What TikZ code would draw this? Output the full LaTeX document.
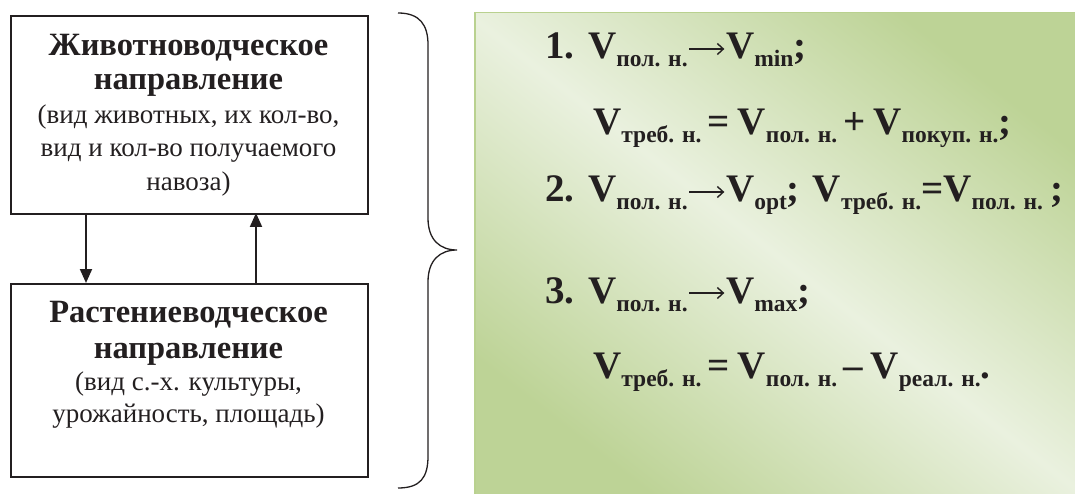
\documentclass[tikz,border=0pt]{standalone}
\usepackage{fontspec}
\setmainfont{Liberation Serif}
\usetikzlibrary{arrows.meta}
\definecolor{ink}{HTML}{231F20}
\definecolor{gdark}{HTML}{BDD396}
\definecolor{glight}{HTML}{EAF1DF}
\definecolor{gedge}{HTML}{B9D18F}
\newcommand{\vsb}[1]{V\raisebox{-8pt}{\fontsize{23.5}{23.5}\selectfont #1}}
\newcommand{\arr}{\kern1pt\tikz[baseline=-10pt]\draw[ink, line width=1.4pt,
  -{Straight Barb[length=6pt,width=11pt,line width=1.4pt]}] (0pt,0pt) -- (35pt,0pt);\kern1pt}
\newcommand{\op}[1]{\kern6pt#1\kern8pt}
\tikzset{
  box/.style={draw=ink, line width=2pt, rectangle, inner sep=0pt},
  conn/.style={draw=ink, line width=2pt, -{Triangle[length=14pt,width=12pt]}},
  titletext/.style={anchor=base, inner sep=0pt, text=ink},
  formula/.style={anchor=base west, inner sep=0pt, text=ink,
    font=\fontsize{39}{39}\selectfont\bfseries},
}
\begin{document}
\begin{tikzpicture}[x=1pt,y=-1pt]
\useasboundingbox (0,0) rectangle (1075,494);
% left boxes
\node[box, minimum width=357pt, minimum height=198pt, anchor=north west] (top) at (10,15) {};
\node[box, minimum width=357pt, minimum height=193pt, anchor=north west] (bot) at (10,283) {};
\node[titletext] (toptext) at (188.5,56) {\parbox[t]{350pt}{\centering
  \fontsize{32.5}{34}\selectfont\bfseries Животноводческое\\ направление\par
  \fontsize{27}{33.5}\selectfont\mdseries (вид животных, их кол-во,\\ вид и кол-во получаемого\\ навоза)\par}};
\node[titletext] (bottext) at (188.5,322) {\parbox[t]{350pt}{\centering
  \fontsize{32.5}{36}\selectfont\bfseries Растениеводческое\\ направление\par
  \fontsize{27}{32}\selectfont\mdseries (вид с.-х. культуры,\\ урожайность, площадь)\par}};
\coordinate (d1) at (86,213);
\coordinate (d2) at (86,283);
\coordinate (u1) at (256,283);
\coordinate (u2) at (256,213);
\draw[conn] (d1) -- (d2);
\draw[conn] (u1) -- (u2);
% brace
\draw[ink, line width=1.3pt] (398,13) .. controls (420,13) and (428,25) .. (428,45)
  -- (428,218) .. controls (428,240) and (440,250) .. (457,250)
  .. controls (440,250) and (428,260) .. (428,282)
  -- (428,456) .. controls (428,478) and (420,488) .. (398,488);
% green panel
\fill[gedge] (474,12) rectangle (1075,494);
\shade[top color=gdark, bottom color=gdark, middle color=glight,
  shading angle=-38] (476,14) rectangle (1075,494);
% formulas
\node[formula] (f1) at (545,59) {\makebox[43pt][l]{1.}\vsb{пол. н.}\arr\vsb{min};};
\node[formula] (f2) at (593,135) {\vsb{треб. н.}\op{=}\vsb{пол. н.}\op{+}\vsb{покуп. н.};};
\node[formula] (f3) at (545,202) {\makebox[43pt][l]{2.}\vsb{пол. н.}\arr\vsb{opt};\hspace{13pt}\vsb{треб. н.}=\vsb{пол. н.}\hspace{8pt};};
\node[formula] (f4) at (545,303) {\makebox[43pt][l]{3.}\vsb{пол. н.}\arr\vsb{max};};
\node[formula] (f5) at (593,378) {\vsb{треб. н.}\op{=}\vsb{пол. н.}\op{–}\vsb{реал. н.}.};
\end{tikzpicture}
\end{document}
